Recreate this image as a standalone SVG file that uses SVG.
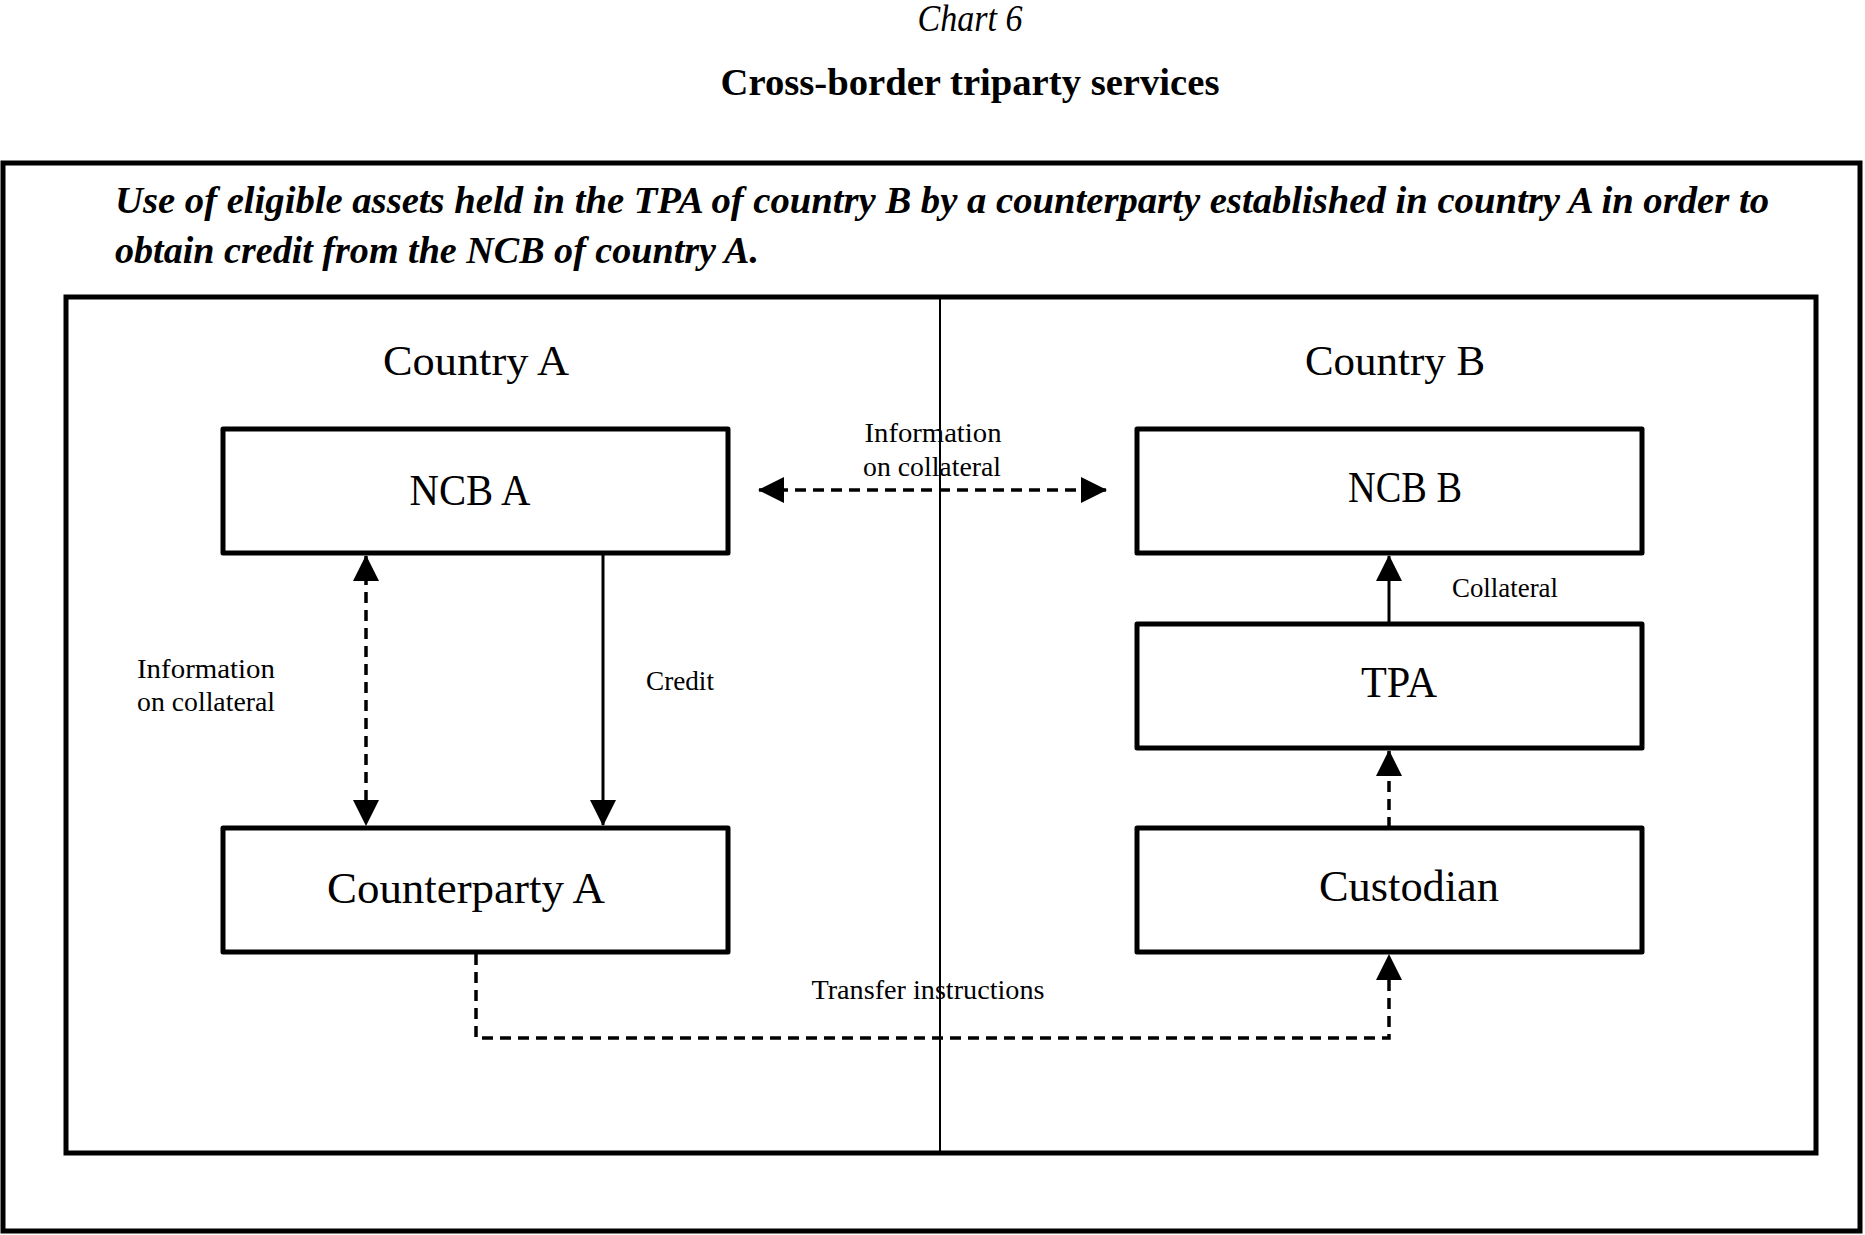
<svg xmlns="http://www.w3.org/2000/svg" width="1865" height="1235" viewBox="0 0 1865 1235">
<style>
text{font-family:"Liberation Serif","Times New Roman",serif;fill:#000}
.box{fill:#fff;stroke:#000;stroke-width:5;stroke-linejoin:round}
.frame{fill:none;stroke:#000;stroke-width:5}
.lbl{font-size:27px;text-anchor:middle}
.node{font-size:44px;text-anchor:middle}
.country{font-size:42px;text-anchor:middle}
.solid{fill:none;stroke:#000;stroke-width:3}
.dash{fill:none;stroke:#000;stroke-width:3.5;stroke-dasharray:11 7}
</style>
<defs>
<marker id="ah" viewBox="0 0 26 26" refX="25" refY="13" markerWidth="26" markerHeight="26" markerUnits="userSpaceOnUse" orient="auto-start-reverse">
<path d="M0,0 L26,13 L0,26 Z" fill="#000"/>
</marker>
</defs>
<rect width="1865" height="1235" fill="#fff"/>
<text x="970" y="31" font-size="38" font-style="italic" text-anchor="middle" textLength="105" lengthAdjust="spacingAndGlyphs">Chart 6</text>
<text x="970" y="95" font-size="38" font-weight="bold" text-anchor="middle" textLength="499" lengthAdjust="spacingAndGlyphs">Cross-border triparty services</text>
<rect class="frame" x="3" y="163" width="1857" height="1068"/>
<text x="115" y="213" font-size="38" font-weight="bold" font-style="italic" textLength="1654" lengthAdjust="spacingAndGlyphs">Use of eligible assets held in the TPA of country B by a counterparty established in country A in order to</text>
<text x="115" y="263" font-size="38" font-weight="bold" font-style="italic" textLength="644" lengthAdjust="spacingAndGlyphs">obtain credit from the NCB of country A.</text>
<rect class="frame" x="66" y="297" width="1750" height="856"/>
<line x1="940" y1="299" x2="940" y2="1151" stroke="#000" stroke-width="2"/>
<text class="country" x="476" y="375" textLength="186" lengthAdjust="spacingAndGlyphs">Country A</text>
<text class="country" x="1395" y="375" textLength="180" lengthAdjust="spacingAndGlyphs">Country B</text>
<g id="ncb-a">
<rect class="box" x="223" y="429" width="505" height="124"/>
<text class="node" x="470" y="505" textLength="121" lengthAdjust="spacingAndGlyphs">NCB A</text>
</g>
<g id="counterparty-a">
<rect class="box" x="223" y="828" width="505" height="124"/>
<text class="node" x="466" y="903" textLength="278" lengthAdjust="spacingAndGlyphs">Counterparty A</text>
</g>
<g id="ncb-b">
<rect class="box" x="1137" y="429" width="505" height="124"/>
<text class="node" x="1405" y="502" textLength="114" lengthAdjust="spacingAndGlyphs">NCB B</text>
</g>
<g id="tpa">
<rect class="box" x="1137" y="624" width="505" height="124"/>
<text class="node" x="1399" y="697" textLength="76" lengthAdjust="spacingAndGlyphs">TPA</text>
</g>
<g id="custodian">
<rect class="box" x="1137" y="828" width="505" height="124"/>
<text class="node" x="1409" y="901" textLength="180" lengthAdjust="spacingAndGlyphs">Custodian</text>
</g>
<g id="connectors">
<line class="dash" x1="759" y1="490" x2="1106" y2="490" marker-start="url(#ah)" marker-end="url(#ah)"/>
<line class="dash" x1="366" y1="556" x2="366" y2="825" marker-start="url(#ah)" marker-end="url(#ah)"/>
<line class="solid" x1="603" y1="553" x2="603" y2="825" marker-end="url(#ah)"/>
<line class="solid" x1="1389" y1="623" x2="1389" y2="556" marker-end="url(#ah)"/>
<line class="dash" x1="1389" y1="828" x2="1389" y2="751" marker-end="url(#ah)"/>
<polyline class="dash" points="476,954 476,1038 1389,1038 1389,955" marker-end="url(#ah)"/>
</g>
<g id="labels">
<text class="lbl" x="933" y="442" textLength="137" lengthAdjust="spacingAndGlyphs">Information</text>
<text class="lbl" x="932" y="476" textLength="138" lengthAdjust="spacingAndGlyphs">on collateral</text>
<text class="lbl" x="206" y="678" textLength="138" lengthAdjust="spacingAndGlyphs">Information</text>
<text class="lbl" x="206" y="711" textLength="138" lengthAdjust="spacingAndGlyphs">on collateral</text>
<text class="lbl" x="680" y="690" textLength="68" lengthAdjust="spacingAndGlyphs">Credit</text>
<text class="lbl" x="1505" y="597" textLength="106" lengthAdjust="spacingAndGlyphs">Collateral</text>
<text class="lbl" x="928" y="999" textLength="233" lengthAdjust="spacingAndGlyphs">Transfer instructions</text>
</g>
</svg>
